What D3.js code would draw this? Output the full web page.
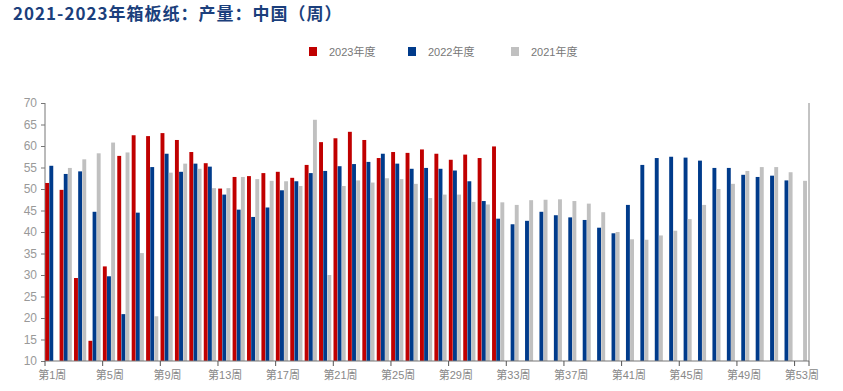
<!DOCTYPE html>
<html>
<head>
<meta charset="utf-8">
<script src="https://cdn.jsdelivr.net/npm/d3@7"></script>
<style>
  body { margin: 0; background: #fff; }
  svg { display: block; }
</style>
</head>
<body>
<svg id="chart" width="843" height="391"></svg>
<script>
// weekly output, 10k tonnes
var weeks = d3.range(1, 54).map(function(d) { return "第" + d + "周"; });
var seriesNames = ["2023年度", "2022年度", "2021年度"];
var colors = ["#c00000", "#003b8b", "#c0c0c0"];

var y2023 = [51.4, 49.8, 29.3, 14.7, 32.0, 57.7, 62.5, 62.3, 63.0, 61.4, 58.6, 56.0, 50.1, 52.8, 53.0, 53.7,
  54.0, 52.6, 55.6, 60.9, 61.8, 63.3, 61.4, 57.2, 58.6, 58.4, 59.2, 58.2, 56.8, 58.0, 57.2, 59.9];
var y2022 = [55.4, 53.5, 54.1, 44.7, 29.7, 20.9, 44.5, 55.1, 58.2, 54.0, 55.9, 55.2, 48.7, 45.2, 43.5, 45.7,
  49.7, 51.8, 53.7, 54.2, 55.3, 55.8, 56.3, 58.2, 55.9, 54.7, 54.9, 54.7, 54.3, 51.8, 47.2, 43.1,
  41.8, 42.6, 44.7, 43.9, 43.4, 42.8, 41.0, 39.7, 46.3, 55.6, 57.2, 57.5, 57.3, 56.6, 54.9, 54.9,
  53.3, 52.8, 53.1, 52.0, null];
var y2021 = [null, 54.9, 56.9, 58.3, 60.8, 58.5, 35.1, 20.4, 53.8, 55.9, 54.7, 50.2, 50.2, 52.8, 52.3, 51.9,
  51.8, 50.7, 66.1, 30.0, 50.7, 52.0, 51.5, 52.5, 52.3, 51.2, 47.9, 48.7, 48.7, 47.0, 46.4, 46.9,
  46.3, 47.4, 47.5, 47.6, 47.2, 46.6, 44.6, 40.0, 38.3, 38.2, 39.2, 40.3, 43.0, 46.3, 50.0, 51.2,
  54.2, 55.1, 55.1, 53.9, 51.9];
var yTicks = [10, 15, 20, 25, 30, 35, 40, 45, 50, 55, 60, 65, 70];

var allSeries = [y2023, y2022, y2021];

var svg = d3.select("#chart");
var plotLeft = 45, plotRight = 809, plotTop = 103, plotBottom = 361;

// title
svg.append("text")
  .attr("x", 13).attr("y", 20)
  .attr("font-family", "'Noto Sans CJK SC', sans-serif")
  .attr("font-size", 17).attr("font-weight", "bold")
  .attr("letter-spacing", 1)
  .attr("fill", "#1b3f7c")
  .text("2021-2023年箱板纸：产量：中国（周）");

// legend
var legendX = [309, 408, 511];
var legend = svg.append("g").selectAll("g")
  .data(seriesNames)
  .enter().append("g")
  .attr("transform", function(d, i) { return "translate(" + legendX[i] + ",47)"; });
legend.append("rect")
  .attr("width", 8).attr("height", 9)
  .attr("fill", function(d, i) { return colors[i]; });
legend.append("text")
  .attr("x", 20).attr("y", 9)
  .attr("font-family", "'Liberation Sans', 'Noto Sans CJK SC', sans-serif")
  .attr("font-size", 11).attr("fill", "#777")
  .text(function(d) { return d; });

var x0 = d3.scaleBand().domain(weeks).range([plotLeft, plotRight]).paddingInner(0).paddingOuter(0);
var x1 = d3.scaleBand().domain(d3.range(3)).range([0.2, x0.bandwidth() * 0.86]).paddingInner(0.06);
var y = d3.scaleLinear().domain([10, 70]).range([plotBottom, plotTop]);

// y axis
var yAxis = svg.append("g")
  .attr("transform", "translate(" + plotLeft + ",0)")
  .call(d3.axisLeft(y).tickValues(yTicks).tickSize(4).tickPadding(4));
yAxis.select(".domain").attr("stroke", "#777").attr("d", "M0," + plotTop + "V" + plotBottom);
yAxis.selectAll(".tick line").attr("stroke", "#777");
yAxis.selectAll(".tick text")
  .attr("fill", "#999").attr("font-size", 12)
  .attr("font-family", "'Liberation Sans', sans-serif");

// right border line
svg.append("line")
  .attr("x1", plotRight).attr("x2", plotRight).attr("y1", plotTop).attr("y2", plotBottom)
  .attr("stroke", "#888");

// bars
var groups = svg.append("g").selectAll("g")
  .data(weeks)
  .enter().append("g")
  .attr("transform", function(d) { return "translate(" + x0(d) + ",0)"; });

groups.selectAll("rect")
  .data(function(d, wi) {
    return allSeries.map(function(s, si) { return { s: si, v: s[wi] }; })
      .filter(function(o) { return o.v != null; });
  })
  .enter().append("rect")
  .attr("x", function(d) { return x1(d.s); })
  .attr("width", x1.bandwidth())
  .attr("y", function(d) { return y(d.v); })
  .attr("height", function(d) { return y(10) - y(d.v); })
  .attr("fill", function(d) { return colors[d.s]; });

// x axis
var xAxisG = svg.append("g").attr("transform", "translate(0," + plotBottom + ")");
xAxisG.append("line")
  .attr("x1", plotLeft).attr("x2", plotRight)
  .attr("stroke", "#777");
var tickWeeks = weeks.filter(function(d, i) { return i % 4 === 0; });
xAxisG.selectAll(".xt")
  .data(tickWeeks.concat([null]))
  .enter().append("line")
  .attr("x1", function(d) { return d ? x0(d) : plotRight; })
  .attr("x2", function(d) { return d ? x0(d) : plotRight; })
  .attr("y2", 5)
  .attr("stroke", "#555");
xAxisG.selectAll(".xl")
  .data(tickWeeks)
  .enter().append("text")
  .attr("x", function(d) { return x0(d) + x0.bandwidth() / 2; })
  .attr("y", 18)
  .attr("text-anchor", "middle")
  .attr("font-family", "'Liberation Sans', 'Noto Sans CJK SC', sans-serif")
  .attr("font-size", 11).attr("fill", "#888")
  .text(function(d) { return d; });
</script>
</body>
</html>
